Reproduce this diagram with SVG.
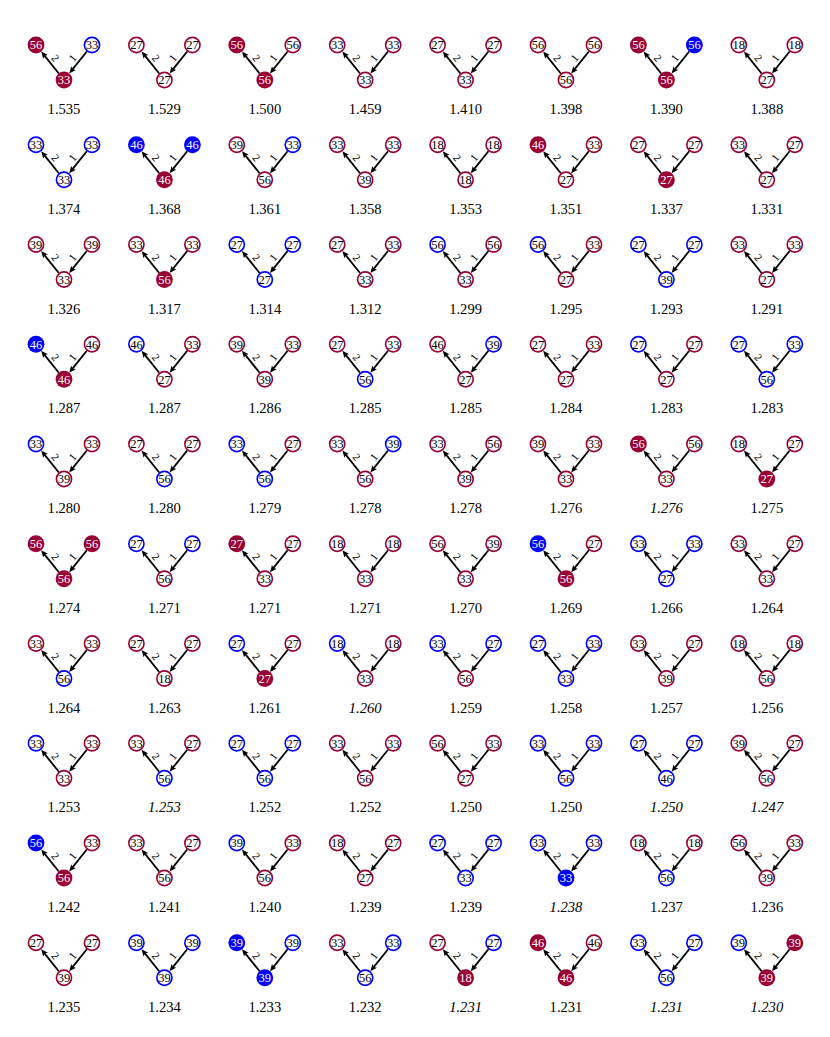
<svg xmlns="http://www.w3.org/2000/svg" xmlns:xlink="http://www.w3.org/1999/xlink" width="830" height="1037" viewBox="0 0 830 1037">
<style>
.F{fill:#990033}
.H{fill:#fff;stroke:#990033;stroke-width:1.6}
.B{fill:#fff;stroke:#0000ff;stroke-width:1.6}
.X{fill:#0000ff}
.n{font-family:"Liberation Serif",serif;font-size:12.5px;text-anchor:middle}
.w{fill:#fff}
.k{fill:#000}
.lab{font-family:"Liberation Serif",serif;font-size:14.6px;text-anchor:middle;fill:#000}
.it{font-style:italic}
.el{font-family:"Liberation Serif",serif;font-size:11px;text-anchor:middle;dominant-baseline:central;fill:#000}
.ln{stroke:#000;stroke-width:1.8;fill:none;marker-end:url(#ah)}
</style>
<defs>
<marker id="ah" markerUnits="userSpaceOnUse" viewBox="0 -3.5 8 7" refX="3" refY="0" markerWidth="8" markerHeight="7" orient="auto">
<path d="M0,-3 L7,0 L0,3 L1.5,0 z" fill="#000"/>
</marker>
<g id="e">
<line class="ln" x1="22.81" y1="6.48" x2="7.69" y2="25.40"/>
<line class="ln" x1="-5.19" y1="28.52" x2="-20.31" y2="9.60"/>
<text class="el" transform="translate(8.3,12.9) rotate(-51.3)">1</text>
<text class="el" transform="translate(-8.3,12.9) rotate(51.3)">2</text>
</g>
</defs>
<rect width="830" height="1037" fill="#fff"/>
<g id="connectors">
<use href="#e" x="64" y="45"/><use href="#e" x="164.4" y="45"/><use href="#e" x="264.8" y="45"/><use href="#e" x="365.2" y="45"/><use href="#e" x="465.6" y="45"/><use href="#e" x="566" y="45"/><use href="#e" x="666.4" y="45"/><use href="#e" x="766.8" y="45"/>
<use href="#e" x="64" y="144.75"/><use href="#e" x="164.4" y="144.75"/><use href="#e" x="264.8" y="144.75"/><use href="#e" x="365.2" y="144.75"/><use href="#e" x="465.6" y="144.75"/><use href="#e" x="566" y="144.75"/><use href="#e" x="666.4" y="144.75"/><use href="#e" x="766.8" y="144.75"/>
<use href="#e" x="64" y="244.5"/><use href="#e" x="164.4" y="244.5"/><use href="#e" x="264.8" y="244.5"/><use href="#e" x="365.2" y="244.5"/><use href="#e" x="465.6" y="244.5"/><use href="#e" x="566" y="244.5"/><use href="#e" x="666.4" y="244.5"/><use href="#e" x="766.8" y="244.5"/>
<use href="#e" x="64" y="344.25"/><use href="#e" x="164.4" y="344.25"/><use href="#e" x="264.8" y="344.25"/><use href="#e" x="365.2" y="344.25"/><use href="#e" x="465.6" y="344.25"/><use href="#e" x="566" y="344.25"/><use href="#e" x="666.4" y="344.25"/><use href="#e" x="766.8" y="344.25"/>
<use href="#e" x="64" y="444"/><use href="#e" x="164.4" y="444"/><use href="#e" x="264.8" y="444"/><use href="#e" x="365.2" y="444"/><use href="#e" x="465.6" y="444"/><use href="#e" x="566" y="444"/><use href="#e" x="666.4" y="444"/><use href="#e" x="766.8" y="444"/>
<use href="#e" x="64" y="543.75"/><use href="#e" x="164.4" y="543.75"/><use href="#e" x="264.8" y="543.75"/><use href="#e" x="365.2" y="543.75"/><use href="#e" x="465.6" y="543.75"/><use href="#e" x="566" y="543.75"/><use href="#e" x="666.4" y="543.75"/><use href="#e" x="766.8" y="543.75"/>
<use href="#e" x="64" y="643.5"/><use href="#e" x="164.4" y="643.5"/><use href="#e" x="264.8" y="643.5"/><use href="#e" x="365.2" y="643.5"/><use href="#e" x="465.6" y="643.5"/><use href="#e" x="566" y="643.5"/><use href="#e" x="666.4" y="643.5"/><use href="#e" x="766.8" y="643.5"/>
<use href="#e" x="64" y="743.25"/><use href="#e" x="164.4" y="743.25"/><use href="#e" x="264.8" y="743.25"/><use href="#e" x="365.2" y="743.25"/><use href="#e" x="465.6" y="743.25"/><use href="#e" x="566" y="743.25"/><use href="#e" x="666.4" y="743.25"/><use href="#e" x="766.8" y="743.25"/>
<use href="#e" x="64" y="843"/><use href="#e" x="164.4" y="843"/><use href="#e" x="264.8" y="843"/><use href="#e" x="365.2" y="843"/><use href="#e" x="465.6" y="843"/><use href="#e" x="566" y="843"/><use href="#e" x="666.4" y="843"/><use href="#e" x="766.8" y="843"/>
<use href="#e" x="64" y="942.75"/><use href="#e" x="164.4" y="942.75"/><use href="#e" x="264.8" y="942.75"/><use href="#e" x="365.2" y="942.75"/><use href="#e" x="465.6" y="942.75"/><use href="#e" x="566" y="942.75"/><use href="#e" x="666.4" y="942.75"/><use href="#e" x="766.8" y="942.75"/>
</g>

<!-- Row 0 -->
<g id="c0-0" transform="translate(64,45)">
<g id="c0-0L"><circle class="F" cx="-28" cy="0" r="8.4"/><text class="n w" x="-28" y="4.3">56</text></g>
<g id="c0-0R"><circle class="B" cx="28" cy="0" r="7.6"/><text class="n k" x="28" y="4.3">33</text></g>
<g id="c0-0B"><circle class="F" cx="0" cy="35" r="8.4"/><text class="n w" x="0" y="39.3">33</text></g>
<text class="lab" x="0" y="69">1.535</text></g>
<g id="c0-1" transform="translate(164.4,45)">
<g id="c0-1L"><circle class="H" cx="-28" cy="0" r="7.6"/><text class="n k" x="-28" y="4.3">27</text></g>
<g id="c0-1R"><circle class="H" cx="28" cy="0" r="7.6"/><text class="n k" x="28" y="4.3">27</text></g>
<g id="c0-1B"><circle class="H" cx="0" cy="35" r="7.6"/><text class="n k" x="0" y="39.3">27</text></g>
<text class="lab" x="0" y="69">1.529</text></g>
<g id="c0-2" transform="translate(264.8,45)">
<g id="c0-2L"><circle class="F" cx="-28" cy="0" r="8.4"/><text class="n w" x="-28" y="4.3">56</text></g>
<g id="c0-2R"><circle class="H" cx="28" cy="0" r="7.6"/><text class="n k" x="28" y="4.3">56</text></g>
<g id="c0-2B"><circle class="F" cx="0" cy="35" r="8.4"/><text class="n w" x="0" y="39.3">56</text></g>
<text class="lab" x="0" y="69">1.500</text></g>
<g id="c0-3" transform="translate(365.2,45)">
<g id="c0-3L"><circle class="H" cx="-28" cy="0" r="7.6"/><text class="n k" x="-28" y="4.3">33</text></g>
<g id="c0-3R"><circle class="H" cx="28" cy="0" r="7.6"/><text class="n k" x="28" y="4.3">33</text></g>
<g id="c0-3B"><circle class="H" cx="0" cy="35" r="7.6"/><text class="n k" x="0" y="39.3">33</text></g>
<text class="lab" x="0" y="69">1.459</text></g>
<g id="c0-4" transform="translate(465.6,45)">
<g id="c0-4L"><circle class="H" cx="-28" cy="0" r="7.6"/><text class="n k" x="-28" y="4.3">27</text></g>
<g id="c0-4R"><circle class="H" cx="28" cy="0" r="7.6"/><text class="n k" x="28" y="4.3">27</text></g>
<g id="c0-4B"><circle class="H" cx="0" cy="35" r="7.6"/><text class="n k" x="0" y="39.3">33</text></g>
<text class="lab" x="0" y="69">1.410</text></g>
<g id="c0-5" transform="translate(566,45)">
<g id="c0-5L"><circle class="H" cx="-28" cy="0" r="7.6"/><text class="n k" x="-28" y="4.3">56</text></g>
<g id="c0-5R"><circle class="H" cx="28" cy="0" r="7.6"/><text class="n k" x="28" y="4.3">56</text></g>
<g id="c0-5B"><circle class="H" cx="0" cy="35" r="7.6"/><text class="n k" x="0" y="39.3">56</text></g>
<text class="lab" x="0" y="69">1.398</text></g>
<g id="c0-6" transform="translate(666.4,45)">
<g id="c0-6L"><circle class="F" cx="-28" cy="0" r="8.4"/><text class="n w" x="-28" y="4.3">56</text></g>
<g id="c0-6R"><circle class="X" cx="28" cy="0" r="8.4"/><text class="n w" x="28" y="4.3">56</text></g>
<g id="c0-6B"><circle class="F" cx="0" cy="35" r="8.4"/><text class="n w" x="0" y="39.3">56</text></g>
<text class="lab" x="0" y="69">1.390</text></g>
<g id="c0-7" transform="translate(766.8,45)">
<g id="c0-7L"><circle class="H" cx="-28" cy="0" r="7.6"/><text class="n k" x="-28" y="4.3">18</text></g>
<g id="c0-7R"><circle class="H" cx="28" cy="0" r="7.6"/><text class="n k" x="28" y="4.3">18</text></g>
<g id="c0-7B"><circle class="H" cx="0" cy="35" r="7.6"/><text class="n k" x="0" y="39.3">27</text></g>
<text class="lab" x="0" y="69">1.388</text></g>

<!-- Row 1 -->
<g id="c1-0" transform="translate(64,144.75)">
<g id="c1-0L"><circle class="B" cx="-28" cy="0" r="7.6"/><text class="n k" x="-28" y="4.3">33</text></g>
<g id="c1-0R"><circle class="B" cx="28" cy="0" r="7.6"/><text class="n k" x="28" y="4.3">33</text></g>
<g id="c1-0B"><circle class="B" cx="0" cy="35" r="7.6"/><text class="n k" x="0" y="39.3">33</text></g>
<text class="lab" x="0" y="69">1.374</text></g>
<g id="c1-1" transform="translate(164.4,144.75)">
<g id="c1-1L"><circle class="X" cx="-28" cy="0" r="8.4"/><text class="n w" x="-28" y="4.3">46</text></g>
<g id="c1-1R"><circle class="X" cx="28" cy="0" r="8.4"/><text class="n w" x="28" y="4.3">46</text></g>
<g id="c1-1B"><circle class="F" cx="0" cy="35" r="8.4"/><text class="n w" x="0" y="39.3">46</text></g>
<text class="lab" x="0" y="69">1.368</text></g>
<g id="c1-2" transform="translate(264.8,144.75)">
<g id="c1-2L"><circle class="H" cx="-28" cy="0" r="7.6"/><text class="n k" x="-28" y="4.3">39</text></g>
<g id="c1-2R"><circle class="B" cx="28" cy="0" r="7.6"/><text class="n k" x="28" y="4.3">33</text></g>
<g id="c1-2B"><circle class="H" cx="0" cy="35" r="7.6"/><text class="n k" x="0" y="39.3">56</text></g>
<text class="lab" x="0" y="69">1.361</text></g>
<g id="c1-3" transform="translate(365.2,144.75)">
<g id="c1-3L"><circle class="H" cx="-28" cy="0" r="7.6"/><text class="n k" x="-28" y="4.3">33</text></g>
<g id="c1-3R"><circle class="H" cx="28" cy="0" r="7.6"/><text class="n k" x="28" y="4.3">33</text></g>
<g id="c1-3B"><circle class="H" cx="0" cy="35" r="7.6"/><text class="n k" x="0" y="39.3">39</text></g>
<text class="lab" x="0" y="69">1.358</text></g>
<g id="c1-4" transform="translate(465.6,144.75)">
<g id="c1-4L"><circle class="H" cx="-28" cy="0" r="7.6"/><text class="n k" x="-28" y="4.3">18</text></g>
<g id="c1-4R"><circle class="H" cx="28" cy="0" r="7.6"/><text class="n k" x="28" y="4.3">18</text></g>
<g id="c1-4B"><circle class="H" cx="0" cy="35" r="7.6"/><text class="n k" x="0" y="39.3">18</text></g>
<text class="lab" x="0" y="69">1.353</text></g>
<g id="c1-5" transform="translate(566,144.75)">
<g id="c1-5L"><circle class="F" cx="-28" cy="0" r="8.4"/><text class="n w" x="-28" y="4.3">46</text></g>
<g id="c1-5R"><circle class="H" cx="28" cy="0" r="7.6"/><text class="n k" x="28" y="4.3">33</text></g>
<g id="c1-5B"><circle class="H" cx="0" cy="35" r="7.6"/><text class="n k" x="0" y="39.3">27</text></g>
<text class="lab" x="0" y="69">1.351</text></g>
<g id="c1-6" transform="translate(666.4,144.75)">
<g id="c1-6L"><circle class="H" cx="-28" cy="0" r="7.6"/><text class="n k" x="-28" y="4.3">27</text></g>
<g id="c1-6R"><circle class="H" cx="28" cy="0" r="7.6"/><text class="n k" x="28" y="4.3">27</text></g>
<g id="c1-6B"><circle class="F" cx="0" cy="35" r="8.4"/><text class="n w" x="0" y="39.3">27</text></g>
<text class="lab" x="0" y="69">1.337</text></g>
<g id="c1-7" transform="translate(766.8,144.75)">
<g id="c1-7L"><circle class="H" cx="-28" cy="0" r="7.6"/><text class="n k" x="-28" y="4.3">33</text></g>
<g id="c1-7R"><circle class="H" cx="28" cy="0" r="7.6"/><text class="n k" x="28" y="4.3">27</text></g>
<g id="c1-7B"><circle class="H" cx="0" cy="35" r="7.6"/><text class="n k" x="0" y="39.3">27</text></g>
<text class="lab" x="0" y="69">1.331</text></g>

<!-- Row 2 -->
<g id="c2-0" transform="translate(64,244.5)">
<g id="c2-0L"><circle class="H" cx="-28" cy="0" r="7.6"/><text class="n k" x="-28" y="4.3">39</text></g>
<g id="c2-0R"><circle class="H" cx="28" cy="0" r="7.6"/><text class="n k" x="28" y="4.3">39</text></g>
<g id="c2-0B"><circle class="H" cx="0" cy="35" r="7.6"/><text class="n k" x="0" y="39.3">33</text></g>
<text class="lab" x="0" y="69">1.326</text></g>
<g id="c2-1" transform="translate(164.4,244.5)">
<g id="c2-1L"><circle class="H" cx="-28" cy="0" r="7.6"/><text class="n k" x="-28" y="4.3">33</text></g>
<g id="c2-1R"><circle class="H" cx="28" cy="0" r="7.6"/><text class="n k" x="28" y="4.3">33</text></g>
<g id="c2-1B"><circle class="F" cx="0" cy="35" r="8.4"/><text class="n w" x="0" y="39.3">56</text></g>
<text class="lab" x="0" y="69">1.317</text></g>
<g id="c2-2" transform="translate(264.8,244.5)">
<g id="c2-2L"><circle class="B" cx="-28" cy="0" r="7.6"/><text class="n k" x="-28" y="4.3">27</text></g>
<g id="c2-2R"><circle class="B" cx="28" cy="0" r="7.6"/><text class="n k" x="28" y="4.3">27</text></g>
<g id="c2-2B"><circle class="B" cx="0" cy="35" r="7.6"/><text class="n k" x="0" y="39.3">27</text></g>
<text class="lab" x="0" y="69">1.314</text></g>
<g id="c2-3" transform="translate(365.2,244.5)">
<g id="c2-3L"><circle class="H" cx="-28" cy="0" r="7.6"/><text class="n k" x="-28" y="4.3">27</text></g>
<g id="c2-3R"><circle class="H" cx="28" cy="0" r="7.6"/><text class="n k" x="28" y="4.3">33</text></g>
<g id="c2-3B"><circle class="H" cx="0" cy="35" r="7.6"/><text class="n k" x="0" y="39.3">33</text></g>
<text class="lab" x="0" y="69">1.312</text></g>
<g id="c2-4" transform="translate(465.6,244.5)">
<g id="c2-4L"><circle class="B" cx="-28" cy="0" r="7.6"/><text class="n k" x="-28" y="4.3">56</text></g>
<g id="c2-4R"><circle class="H" cx="28" cy="0" r="7.6"/><text class="n k" x="28" y="4.3">56</text></g>
<g id="c2-4B"><circle class="H" cx="0" cy="35" r="7.6"/><text class="n k" x="0" y="39.3">33</text></g>
<text class="lab" x="0" y="69">1.299</text></g>
<g id="c2-5" transform="translate(566,244.5)">
<g id="c2-5L"><circle class="B" cx="-28" cy="0" r="7.6"/><text class="n k" x="-28" y="4.3">56</text></g>
<g id="c2-5R"><circle class="H" cx="28" cy="0" r="7.6"/><text class="n k" x="28" y="4.3">33</text></g>
<g id="c2-5B"><circle class="H" cx="0" cy="35" r="7.6"/><text class="n k" x="0" y="39.3">27</text></g>
<text class="lab" x="0" y="69">1.295</text></g>
<g id="c2-6" transform="translate(666.4,244.5)">
<g id="c2-6L"><circle class="B" cx="-28" cy="0" r="7.6"/><text class="n k" x="-28" y="4.3">27</text></g>
<g id="c2-6R"><circle class="B" cx="28" cy="0" r="7.6"/><text class="n k" x="28" y="4.3">27</text></g>
<g id="c2-6B"><circle class="B" cx="0" cy="35" r="7.6"/><text class="n k" x="0" y="39.3">39</text></g>
<text class="lab" x="0" y="69">1.293</text></g>
<g id="c2-7" transform="translate(766.8,244.5)">
<g id="c2-7L"><circle class="H" cx="-28" cy="0" r="7.6"/><text class="n k" x="-28" y="4.3">33</text></g>
<g id="c2-7R"><circle class="H" cx="28" cy="0" r="7.6"/><text class="n k" x="28" y="4.3">33</text></g>
<g id="c2-7B"><circle class="H" cx="0" cy="35" r="7.6"/><text class="n k" x="0" y="39.3">27</text></g>
<text class="lab" x="0" y="69">1.291</text></g>

<!-- Row 3 -->
<g id="c3-0" transform="translate(64,344.25)">
<g id="c3-0L"><circle class="X" cx="-28" cy="0" r="8.4"/><text class="n w" x="-28" y="4.3">46</text></g>
<g id="c3-0R"><circle class="H" cx="28" cy="0" r="7.6"/><text class="n k" x="28" y="4.3">46</text></g>
<g id="c3-0B"><circle class="F" cx="0" cy="35" r="8.4"/><text class="n w" x="0" y="39.3">46</text></g>
<text class="lab" x="0" y="69">1.287</text></g>
<g id="c3-1" transform="translate(164.4,344.25)">
<g id="c3-1L"><circle class="B" cx="-28" cy="0" r="7.6"/><text class="n k" x="-28" y="4.3">46</text></g>
<g id="c3-1R"><circle class="H" cx="28" cy="0" r="7.6"/><text class="n k" x="28" y="4.3">33</text></g>
<g id="c3-1B"><circle class="H" cx="0" cy="35" r="7.6"/><text class="n k" x="0" y="39.3">27</text></g>
<text class="lab" x="0" y="69">1.287</text></g>
<g id="c3-2" transform="translate(264.8,344.25)">
<g id="c3-2L"><circle class="H" cx="-28" cy="0" r="7.6"/><text class="n k" x="-28" y="4.3">39</text></g>
<g id="c3-2R"><circle class="H" cx="28" cy="0" r="7.6"/><text class="n k" x="28" y="4.3">33</text></g>
<g id="c3-2B"><circle class="H" cx="0" cy="35" r="7.6"/><text class="n k" x="0" y="39.3">39</text></g>
<text class="lab" x="0" y="69">1.286</text></g>
<g id="c3-3" transform="translate(365.2,344.25)">
<g id="c3-3L"><circle class="H" cx="-28" cy="0" r="7.6"/><text class="n k" x="-28" y="4.3">27</text></g>
<g id="c3-3R"><circle class="H" cx="28" cy="0" r="7.6"/><text class="n k" x="28" y="4.3">33</text></g>
<g id="c3-3B"><circle class="B" cx="0" cy="35" r="7.6"/><text class="n k" x="0" y="39.3">56</text></g>
<text class="lab" x="0" y="69">1.285</text></g>
<g id="c3-4" transform="translate(465.6,344.25)">
<g id="c3-4L"><circle class="H" cx="-28" cy="0" r="7.6"/><text class="n k" x="-28" y="4.3">46</text></g>
<g id="c3-4R"><circle class="B" cx="28" cy="0" r="7.6"/><text class="n k" x="28" y="4.3">39</text></g>
<g id="c3-4B"><circle class="H" cx="0" cy="35" r="7.6"/><text class="n k" x="0" y="39.3">27</text></g>
<text class="lab" x="0" y="69">1.285</text></g>
<g id="c3-5" transform="translate(566,344.25)">
<g id="c3-5L"><circle class="H" cx="-28" cy="0" r="7.6"/><text class="n k" x="-28" y="4.3">27</text></g>
<g id="c3-5R"><circle class="H" cx="28" cy="0" r="7.6"/><text class="n k" x="28" y="4.3">33</text></g>
<g id="c3-5B"><circle class="H" cx="0" cy="35" r="7.6"/><text class="n k" x="0" y="39.3">27</text></g>
<text class="lab" x="0" y="69">1.284</text></g>
<g id="c3-6" transform="translate(666.4,344.25)">
<g id="c3-6L"><circle class="B" cx="-28" cy="0" r="7.6"/><text class="n k" x="-28" y="4.3">27</text></g>
<g id="c3-6R"><circle class="H" cx="28" cy="0" r="7.6"/><text class="n k" x="28" y="4.3">27</text></g>
<g id="c3-6B"><circle class="H" cx="0" cy="35" r="7.6"/><text class="n k" x="0" y="39.3">27</text></g>
<text class="lab" x="0" y="69">1.283</text></g>
<g id="c3-7" transform="translate(766.8,344.25)">
<g id="c3-7L"><circle class="B" cx="-28" cy="0" r="7.6"/><text class="n k" x="-28" y="4.3">27</text></g>
<g id="c3-7R"><circle class="B" cx="28" cy="0" r="7.6"/><text class="n k" x="28" y="4.3">33</text></g>
<g id="c3-7B"><circle class="B" cx="0" cy="35" r="7.6"/><text class="n k" x="0" y="39.3">56</text></g>
<text class="lab" x="0" y="69">1.283</text></g>

<!-- Row 4 -->
<g id="c4-0" transform="translate(64,444)">
<g id="c4-0L"><circle class="B" cx="-28" cy="0" r="7.6"/><text class="n k" x="-28" y="4.3">33</text></g>
<g id="c4-0R"><circle class="H" cx="28" cy="0" r="7.6"/><text class="n k" x="28" y="4.3">33</text></g>
<g id="c4-0B"><circle class="H" cx="0" cy="35" r="7.6"/><text class="n k" x="0" y="39.3">39</text></g>
<text class="lab" x="0" y="69">1.280</text></g>
<g id="c4-1" transform="translate(164.4,444)">
<g id="c4-1L"><circle class="H" cx="-28" cy="0" r="7.6"/><text class="n k" x="-28" y="4.3">27</text></g>
<g id="c4-1R"><circle class="H" cx="28" cy="0" r="7.6"/><text class="n k" x="28" y="4.3">27</text></g>
<g id="c4-1B"><circle class="B" cx="0" cy="35" r="7.6"/><text class="n k" x="0" y="39.3">56</text></g>
<text class="lab" x="0" y="69">1.280</text></g>
<g id="c4-2" transform="translate(264.8,444)">
<g id="c4-2L"><circle class="B" cx="-28" cy="0" r="7.6"/><text class="n k" x="-28" y="4.3">33</text></g>
<g id="c4-2R"><circle class="H" cx="28" cy="0" r="7.6"/><text class="n k" x="28" y="4.3">27</text></g>
<g id="c4-2B"><circle class="B" cx="0" cy="35" r="7.6"/><text class="n k" x="0" y="39.3">56</text></g>
<text class="lab" x="0" y="69">1.279</text></g>
<g id="c4-3" transform="translate(365.2,444)">
<g id="c4-3L"><circle class="H" cx="-28" cy="0" r="7.6"/><text class="n k" x="-28" y="4.3">33</text></g>
<g id="c4-3R"><circle class="B" cx="28" cy="0" r="7.6"/><text class="n k" x="28" y="4.3">39</text></g>
<g id="c4-3B"><circle class="H" cx="0" cy="35" r="7.6"/><text class="n k" x="0" y="39.3">56</text></g>
<text class="lab" x="0" y="69">1.278</text></g>
<g id="c4-4" transform="translate(465.6,444)">
<g id="c4-4L"><circle class="H" cx="-28" cy="0" r="7.6"/><text class="n k" x="-28" y="4.3">33</text></g>
<g id="c4-4R"><circle class="H" cx="28" cy="0" r="7.6"/><text class="n k" x="28" y="4.3">56</text></g>
<g id="c4-4B"><circle class="H" cx="0" cy="35" r="7.6"/><text class="n k" x="0" y="39.3">39</text></g>
<text class="lab" x="0" y="69">1.278</text></g>
<g id="c4-5" transform="translate(566,444)">
<g id="c4-5L"><circle class="H" cx="-28" cy="0" r="7.6"/><text class="n k" x="-28" y="4.3">39</text></g>
<g id="c4-5R"><circle class="H" cx="28" cy="0" r="7.6"/><text class="n k" x="28" y="4.3">33</text></g>
<g id="c4-5B"><circle class="H" cx="0" cy="35" r="7.6"/><text class="n k" x="0" y="39.3">33</text></g>
<text class="lab" x="0" y="69">1.276</text></g>
<g id="c4-6" transform="translate(666.4,444)">
<g id="c4-6L"><circle class="F" cx="-28" cy="0" r="8.4"/><text class="n w" x="-28" y="4.3">56</text></g>
<g id="c4-6R"><circle class="H" cx="28" cy="0" r="7.6"/><text class="n k" x="28" y="4.3">56</text></g>
<g id="c4-6B"><circle class="H" cx="0" cy="35" r="7.6"/><text class="n k" x="0" y="39.3">33</text></g>
<text class="lab it" x="0" y="69">1.276</text></g>
<g id="c4-7" transform="translate(766.8,444)">
<g id="c4-7L"><circle class="H" cx="-28" cy="0" r="7.6"/><text class="n k" x="-28" y="4.3">18</text></g>
<g id="c4-7R"><circle class="H" cx="28" cy="0" r="7.6"/><text class="n k" x="28" y="4.3">27</text></g>
<g id="c4-7B"><circle class="F" cx="0" cy="35" r="8.4"/><text class="n w" x="0" y="39.3">27</text></g>
<text class="lab" x="0" y="69">1.275</text></g>

<!-- Row 5 -->
<g id="c5-0" transform="translate(64,543.75)">
<g id="c5-0L"><circle class="F" cx="-28" cy="0" r="8.4"/><text class="n w" x="-28" y="4.3">56</text></g>
<g id="c5-0R"><circle class="F" cx="28" cy="0" r="8.4"/><text class="n w" x="28" y="4.3">56</text></g>
<g id="c5-0B"><circle class="F" cx="0" cy="35" r="8.4"/><text class="n w" x="0" y="39.3">56</text></g>
<text class="lab" x="0" y="69">1.274</text></g>
<g id="c5-1" transform="translate(164.4,543.75)">
<g id="c5-1L"><circle class="B" cx="-28" cy="0" r="7.6"/><text class="n k" x="-28" y="4.3">27</text></g>
<g id="c5-1R"><circle class="B" cx="28" cy="0" r="7.6"/><text class="n k" x="28" y="4.3">27</text></g>
<g id="c5-1B"><circle class="H" cx="0" cy="35" r="7.6"/><text class="n k" x="0" y="39.3">56</text></g>
<text class="lab" x="0" y="69">1.271</text></g>
<g id="c5-2" transform="translate(264.8,543.75)">
<g id="c5-2L"><circle class="F" cx="-28" cy="0" r="8.4"/><text class="n w" x="-28" y="4.3">27</text></g>
<g id="c5-2R"><circle class="H" cx="28" cy="0" r="7.6"/><text class="n k" x="28" y="4.3">27</text></g>
<g id="c5-2B"><circle class="H" cx="0" cy="35" r="7.6"/><text class="n k" x="0" y="39.3">33</text></g>
<text class="lab" x="0" y="69">1.271</text></g>
<g id="c5-3" transform="translate(365.2,543.75)">
<g id="c5-3L"><circle class="H" cx="-28" cy="0" r="7.6"/><text class="n k" x="-28" y="4.3">18</text></g>
<g id="c5-3R"><circle class="H" cx="28" cy="0" r="7.6"/><text class="n k" x="28" y="4.3">18</text></g>
<g id="c5-3B"><circle class="H" cx="0" cy="35" r="7.6"/><text class="n k" x="0" y="39.3">33</text></g>
<text class="lab" x="0" y="69">1.271</text></g>
<g id="c5-4" transform="translate(465.6,543.75)">
<g id="c5-4L"><circle class="H" cx="-28" cy="0" r="7.6"/><text class="n k" x="-28" y="4.3">56</text></g>
<g id="c5-4R"><circle class="H" cx="28" cy="0" r="7.6"/><text class="n k" x="28" y="4.3">39</text></g>
<g id="c5-4B"><circle class="H" cx="0" cy="35" r="7.6"/><text class="n k" x="0" y="39.3">33</text></g>
<text class="lab" x="0" y="69">1.270</text></g>
<g id="c5-5" transform="translate(566,543.75)">
<g id="c5-5L"><circle class="X" cx="-28" cy="0" r="8.4"/><text class="n w" x="-28" y="4.3">56</text></g>
<g id="c5-5R"><circle class="H" cx="28" cy="0" r="7.6"/><text class="n k" x="28" y="4.3">27</text></g>
<g id="c5-5B"><circle class="F" cx="0" cy="35" r="8.4"/><text class="n w" x="0" y="39.3">56</text></g>
<text class="lab" x="0" y="69">1.269</text></g>
<g id="c5-6" transform="translate(666.4,543.75)">
<g id="c5-6L"><circle class="B" cx="-28" cy="0" r="7.6"/><text class="n k" x="-28" y="4.3">33</text></g>
<g id="c5-6R"><circle class="B" cx="28" cy="0" r="7.6"/><text class="n k" x="28" y="4.3">33</text></g>
<g id="c5-6B"><circle class="B" cx="0" cy="35" r="7.6"/><text class="n k" x="0" y="39.3">27</text></g>
<text class="lab" x="0" y="69">1.266</text></g>
<g id="c5-7" transform="translate(766.8,543.75)">
<g id="c5-7L"><circle class="H" cx="-28" cy="0" r="7.6"/><text class="n k" x="-28" y="4.3">33</text></g>
<g id="c5-7R"><circle class="H" cx="28" cy="0" r="7.6"/><text class="n k" x="28" y="4.3">27</text></g>
<g id="c5-7B"><circle class="H" cx="0" cy="35" r="7.6"/><text class="n k" x="0" y="39.3">33</text></g>
<text class="lab" x="0" y="69">1.264</text></g>

<!-- Row 6 -->
<g id="c6-0" transform="translate(64,643.5)">
<g id="c6-0L"><circle class="H" cx="-28" cy="0" r="7.6"/><text class="n k" x="-28" y="4.3">33</text></g>
<g id="c6-0R"><circle class="H" cx="28" cy="0" r="7.6"/><text class="n k" x="28" y="4.3">33</text></g>
<g id="c6-0B"><circle class="B" cx="0" cy="35" r="7.6"/><text class="n k" x="0" y="39.3">56</text></g>
<text class="lab" x="0" y="69">1.264</text></g>
<g id="c6-1" transform="translate(164.4,643.5)">
<g id="c6-1L"><circle class="H" cx="-28" cy="0" r="7.6"/><text class="n k" x="-28" y="4.3">27</text></g>
<g id="c6-1R"><circle class="H" cx="28" cy="0" r="7.6"/><text class="n k" x="28" y="4.3">27</text></g>
<g id="c6-1B"><circle class="H" cx="0" cy="35" r="7.6"/><text class="n k" x="0" y="39.3">18</text></g>
<text class="lab" x="0" y="69">1.263</text></g>
<g id="c6-2" transform="translate(264.8,643.5)">
<g id="c6-2L"><circle class="B" cx="-28" cy="0" r="7.6"/><text class="n k" x="-28" y="4.3">27</text></g>
<g id="c6-2R"><circle class="H" cx="28" cy="0" r="7.6"/><text class="n k" x="28" y="4.3">27</text></g>
<g id="c6-2B"><circle class="F" cx="0" cy="35" r="8.4"/><text class="n w" x="0" y="39.3">27</text></g>
<text class="lab" x="0" y="69">1.261</text></g>
<g id="c6-3" transform="translate(365.2,643.5)">
<g id="c6-3L"><circle class="B" cx="-28" cy="0" r="7.6"/><text class="n k" x="-28" y="4.3">18</text></g>
<g id="c6-3R"><circle class="H" cx="28" cy="0" r="7.6"/><text class="n k" x="28" y="4.3">18</text></g>
<g id="c6-3B"><circle class="H" cx="0" cy="35" r="7.6"/><text class="n k" x="0" y="39.3">33</text></g>
<text class="lab it" x="0" y="69">1.260</text></g>
<g id="c6-4" transform="translate(465.6,643.5)">
<g id="c6-4L"><circle class="B" cx="-28" cy="0" r="7.6"/><text class="n k" x="-28" y="4.3">33</text></g>
<g id="c6-4R"><circle class="B" cx="28" cy="0" r="7.6"/><text class="n k" x="28" y="4.3">27</text></g>
<g id="c6-4B"><circle class="H" cx="0" cy="35" r="7.6"/><text class="n k" x="0" y="39.3">56</text></g>
<text class="lab" x="0" y="69">1.259</text></g>
<g id="c6-5" transform="translate(566,643.5)">
<g id="c6-5L"><circle class="B" cx="-28" cy="0" r="7.6"/><text class="n k" x="-28" y="4.3">27</text></g>
<g id="c6-5R"><circle class="B" cx="28" cy="0" r="7.6"/><text class="n k" x="28" y="4.3">33</text></g>
<g id="c6-5B"><circle class="B" cx="0" cy="35" r="7.6"/><text class="n k" x="0" y="39.3">33</text></g>
<text class="lab" x="0" y="69">1.258</text></g>
<g id="c6-6" transform="translate(666.4,643.5)">
<g id="c6-6L"><circle class="H" cx="-28" cy="0" r="7.6"/><text class="n k" x="-28" y="4.3">33</text></g>
<g id="c6-6R"><circle class="H" cx="28" cy="0" r="7.6"/><text class="n k" x="28" y="4.3">27</text></g>
<g id="c6-6B"><circle class="H" cx="0" cy="35" r="7.6"/><text class="n k" x="0" y="39.3">39</text></g>
<text class="lab" x="0" y="69">1.257</text></g>
<g id="c6-7" transform="translate(766.8,643.5)">
<g id="c6-7L"><circle class="H" cx="-28" cy="0" r="7.6"/><text class="n k" x="-28" y="4.3">18</text></g>
<g id="c6-7R"><circle class="H" cx="28" cy="0" r="7.6"/><text class="n k" x="28" y="4.3">18</text></g>
<g id="c6-7B"><circle class="H" cx="0" cy="35" r="7.6"/><text class="n k" x="0" y="39.3">56</text></g>
<text class="lab" x="0" y="69">1.256</text></g>

<!-- Row 7 -->
<g id="c7-0" transform="translate(64,743.25)">
<g id="c7-0L"><circle class="B" cx="-28" cy="0" r="7.6"/><text class="n k" x="-28" y="4.3">33</text></g>
<g id="c7-0R"><circle class="H" cx="28" cy="0" r="7.6"/><text class="n k" x="28" y="4.3">33</text></g>
<g id="c7-0B"><circle class="H" cx="0" cy="35" r="7.6"/><text class="n k" x="0" y="39.3">33</text></g>
<text class="lab" x="0" y="69">1.253</text></g>
<g id="c7-1" transform="translate(164.4,743.25)">
<g id="c7-1L"><circle class="H" cx="-28" cy="0" r="7.6"/><text class="n k" x="-28" y="4.3">33</text></g>
<g id="c7-1R"><circle class="H" cx="28" cy="0" r="7.6"/><text class="n k" x="28" y="4.3">27</text></g>
<g id="c7-1B"><circle class="B" cx="0" cy="35" r="7.6"/><text class="n k" x="0" y="39.3">56</text></g>
<text class="lab it" x="0" y="69">1.253</text></g>
<g id="c7-2" transform="translate(264.8,743.25)">
<g id="c7-2L"><circle class="B" cx="-28" cy="0" r="7.6"/><text class="n k" x="-28" y="4.3">27</text></g>
<g id="c7-2R"><circle class="B" cx="28" cy="0" r="7.6"/><text class="n k" x="28" y="4.3">27</text></g>
<g id="c7-2B"><circle class="B" cx="0" cy="35" r="7.6"/><text class="n k" x="0" y="39.3">56</text></g>
<text class="lab" x="0" y="69">1.252</text></g>
<g id="c7-3" transform="translate(365.2,743.25)">
<g id="c7-3L"><circle class="H" cx="-28" cy="0" r="7.6"/><text class="n k" x="-28" y="4.3">33</text></g>
<g id="c7-3R"><circle class="H" cx="28" cy="0" r="7.6"/><text class="n k" x="28" y="4.3">33</text></g>
<g id="c7-3B"><circle class="H" cx="0" cy="35" r="7.6"/><text class="n k" x="0" y="39.3">56</text></g>
<text class="lab" x="0" y="69">1.252</text></g>
<g id="c7-4" transform="translate(465.6,743.25)">
<g id="c7-4L"><circle class="H" cx="-28" cy="0" r="7.6"/><text class="n k" x="-28" y="4.3">56</text></g>
<g id="c7-4R"><circle class="H" cx="28" cy="0" r="7.6"/><text class="n k" x="28" y="4.3">33</text></g>
<g id="c7-4B"><circle class="H" cx="0" cy="35" r="7.6"/><text class="n k" x="0" y="39.3">27</text></g>
<text class="lab" x="0" y="69">1.250</text></g>
<g id="c7-5" transform="translate(566,743.25)">
<g id="c7-5L"><circle class="B" cx="-28" cy="0" r="7.6"/><text class="n k" x="-28" y="4.3">33</text></g>
<g id="c7-5R"><circle class="B" cx="28" cy="0" r="7.6"/><text class="n k" x="28" y="4.3">33</text></g>
<g id="c7-5B"><circle class="B" cx="0" cy="35" r="7.6"/><text class="n k" x="0" y="39.3">56</text></g>
<text class="lab" x="0" y="69">1.250</text></g>
<g id="c7-6" transform="translate(666.4,743.25)">
<g id="c7-6L"><circle class="B" cx="-28" cy="0" r="7.6"/><text class="n k" x="-28" y="4.3">27</text></g>
<g id="c7-6R"><circle class="B" cx="28" cy="0" r="7.6"/><text class="n k" x="28" y="4.3">27</text></g>
<g id="c7-6B"><circle class="B" cx="0" cy="35" r="7.6"/><text class="n k" x="0" y="39.3">46</text></g>
<text class="lab it" x="0" y="69">1.250</text></g>
<g id="c7-7" transform="translate(766.8,743.25)">
<g id="c7-7L"><circle class="H" cx="-28" cy="0" r="7.6"/><text class="n k" x="-28" y="4.3">39</text></g>
<g id="c7-7R"><circle class="H" cx="28" cy="0" r="7.6"/><text class="n k" x="28" y="4.3">27</text></g>
<g id="c7-7B"><circle class="H" cx="0" cy="35" r="7.6"/><text class="n k" x="0" y="39.3">56</text></g>
<text class="lab it" x="0" y="69">1.247</text></g>

<!-- Row 8 -->
<g id="c8-0" transform="translate(64,843)">
<g id="c8-0L"><circle class="X" cx="-28" cy="0" r="8.4"/><text class="n w" x="-28" y="4.3">56</text></g>
<g id="c8-0R"><circle class="H" cx="28" cy="0" r="7.6"/><text class="n k" x="28" y="4.3">33</text></g>
<g id="c8-0B"><circle class="F" cx="0" cy="35" r="8.4"/><text class="n w" x="0" y="39.3">56</text></g>
<text class="lab" x="0" y="69">1.242</text></g>
<g id="c8-1" transform="translate(164.4,843)">
<g id="c8-1L"><circle class="H" cx="-28" cy="0" r="7.6"/><text class="n k" x="-28" y="4.3">33</text></g>
<g id="c8-1R"><circle class="H" cx="28" cy="0" r="7.6"/><text class="n k" x="28" y="4.3">27</text></g>
<g id="c8-1B"><circle class="H" cx="0" cy="35" r="7.6"/><text class="n k" x="0" y="39.3">56</text></g>
<text class="lab" x="0" y="69">1.241</text></g>
<g id="c8-2" transform="translate(264.8,843)">
<g id="c8-2L"><circle class="B" cx="-28" cy="0" r="7.6"/><text class="n k" x="-28" y="4.3">39</text></g>
<g id="c8-2R"><circle class="H" cx="28" cy="0" r="7.6"/><text class="n k" x="28" y="4.3">33</text></g>
<g id="c8-2B"><circle class="H" cx="0" cy="35" r="7.6"/><text class="n k" x="0" y="39.3">56</text></g>
<text class="lab" x="0" y="69">1.240</text></g>
<g id="c8-3" transform="translate(365.2,843)">
<g id="c8-3L"><circle class="H" cx="-28" cy="0" r="7.6"/><text class="n k" x="-28" y="4.3">18</text></g>
<g id="c8-3R"><circle class="H" cx="28" cy="0" r="7.6"/><text class="n k" x="28" y="4.3">27</text></g>
<g id="c8-3B"><circle class="H" cx="0" cy="35" r="7.6"/><text class="n k" x="0" y="39.3">27</text></g>
<text class="lab" x="0" y="69">1.239</text></g>
<g id="c8-4" transform="translate(465.6,843)">
<g id="c8-4L"><circle class="B" cx="-28" cy="0" r="7.6"/><text class="n k" x="-28" y="4.3">27</text></g>
<g id="c8-4R"><circle class="B" cx="28" cy="0" r="7.6"/><text class="n k" x="28" y="4.3">27</text></g>
<g id="c8-4B"><circle class="B" cx="0" cy="35" r="7.6"/><text class="n k" x="0" y="39.3">33</text></g>
<text class="lab" x="0" y="69">1.239</text></g>
<g id="c8-5" transform="translate(566,843)">
<g id="c8-5L"><circle class="B" cx="-28" cy="0" r="7.6"/><text class="n k" x="-28" y="4.3">33</text></g>
<g id="c8-5R"><circle class="B" cx="28" cy="0" r="7.6"/><text class="n k" x="28" y="4.3">33</text></g>
<g id="c8-5B"><circle class="X" cx="0" cy="35" r="8.4"/><text class="n w" x="0" y="39.3">33</text></g>
<text class="lab it" x="0" y="69">1.238</text></g>
<g id="c8-6" transform="translate(666.4,843)">
<g id="c8-6L"><circle class="H" cx="-28" cy="0" r="7.6"/><text class="n k" x="-28" y="4.3">18</text></g>
<g id="c8-6R"><circle class="H" cx="28" cy="0" r="7.6"/><text class="n k" x="28" y="4.3">18</text></g>
<g id="c8-6B"><circle class="B" cx="0" cy="35" r="7.6"/><text class="n k" x="0" y="39.3">56</text></g>
<text class="lab" x="0" y="69">1.237</text></g>
<g id="c8-7" transform="translate(766.8,843)">
<g id="c8-7L"><circle class="H" cx="-28" cy="0" r="7.6"/><text class="n k" x="-28" y="4.3">56</text></g>
<g id="c8-7R"><circle class="H" cx="28" cy="0" r="7.6"/><text class="n k" x="28" y="4.3">33</text></g>
<g id="c8-7B"><circle class="H" cx="0" cy="35" r="7.6"/><text class="n k" x="0" y="39.3">39</text></g>
<text class="lab" x="0" y="69">1.236</text></g>

<!-- Row 9 -->
<g id="c9-0" transform="translate(64,942.75)">
<g id="c9-0L"><circle class="H" cx="-28" cy="0" r="7.6"/><text class="n k" x="-28" y="4.3">27</text></g>
<g id="c9-0R"><circle class="H" cx="28" cy="0" r="7.6"/><text class="n k" x="28" y="4.3">27</text></g>
<g id="c9-0B"><circle class="H" cx="0" cy="35" r="7.6"/><text class="n k" x="0" y="39.3">39</text></g>
<text class="lab" x="0" y="69">1.235</text></g>
<g id="c9-1" transform="translate(164.4,942.75)">
<g id="c9-1L"><circle class="B" cx="-28" cy="0" r="7.6"/><text class="n k" x="-28" y="4.3">39</text></g>
<g id="c9-1R"><circle class="B" cx="28" cy="0" r="7.6"/><text class="n k" x="28" y="4.3">39</text></g>
<g id="c9-1B"><circle class="B" cx="0" cy="35" r="7.6"/><text class="n k" x="0" y="39.3">39</text></g>
<text class="lab" x="0" y="69">1.234</text></g>
<g id="c9-2" transform="translate(264.8,942.75)">
<g id="c9-2L"><circle class="X" cx="-28" cy="0" r="8.4"/><text class="n w" x="-28" y="4.3">39</text></g>
<g id="c9-2R"><circle class="B" cx="28" cy="0" r="7.6"/><text class="n k" x="28" y="4.3">39</text></g>
<g id="c9-2B"><circle class="X" cx="0" cy="35" r="8.4"/><text class="n w" x="0" y="39.3">39</text></g>
<text class="lab" x="0" y="69">1.233</text></g>
<g id="c9-3" transform="translate(365.2,942.75)">
<g id="c9-3L"><circle class="H" cx="-28" cy="0" r="7.6"/><text class="n k" x="-28" y="4.3">33</text></g>
<g id="c9-3R"><circle class="B" cx="28" cy="0" r="7.6"/><text class="n k" x="28" y="4.3">33</text></g>
<g id="c9-3B"><circle class="B" cx="0" cy="35" r="7.6"/><text class="n k" x="0" y="39.3">56</text></g>
<text class="lab" x="0" y="69">1.232</text></g>
<g id="c9-4" transform="translate(465.6,942.75)">
<g id="c9-4L"><circle class="H" cx="-28" cy="0" r="7.6"/><text class="n k" x="-28" y="4.3">27</text></g>
<g id="c9-4R"><circle class="B" cx="28" cy="0" r="7.6"/><text class="n k" x="28" y="4.3">27</text></g>
<g id="c9-4B"><circle class="F" cx="0" cy="35" r="8.4"/><text class="n w" x="0" y="39.3">18</text></g>
<text class="lab it" x="0" y="69">1.231</text></g>
<g id="c9-5" transform="translate(566,942.75)">
<g id="c9-5L"><circle class="F" cx="-28" cy="0" r="8.4"/><text class="n w" x="-28" y="4.3">46</text></g>
<g id="c9-5R"><circle class="H" cx="28" cy="0" r="7.6"/><text class="n k" x="28" y="4.3">46</text></g>
<g id="c9-5B"><circle class="F" cx="0" cy="35" r="8.4"/><text class="n w" x="0" y="39.3">46</text></g>
<text class="lab" x="0" y="69">1.231</text></g>
<g id="c9-6" transform="translate(666.4,942.75)">
<g id="c9-6L"><circle class="B" cx="-28" cy="0" r="7.6"/><text class="n k" x="-28" y="4.3">33</text></g>
<g id="c9-6R"><circle class="B" cx="28" cy="0" r="7.6"/><text class="n k" x="28" y="4.3">27</text></g>
<g id="c9-6B"><circle class="B" cx="0" cy="35" r="7.6"/><text class="n k" x="0" y="39.3">56</text></g>
<text class="lab it" x="0" y="69">1.231</text></g>
<g id="c9-7" transform="translate(766.8,942.75)">
<g id="c9-7L"><circle class="B" cx="-28" cy="0" r="7.6"/><text class="n k" x="-28" y="4.3">39</text></g>
<g id="c9-7R"><circle class="F" cx="28" cy="0" r="8.4"/><text class="n w" x="28" y="4.3">39</text></g>
<g id="c9-7B"><circle class="F" cx="0" cy="35" r="8.4"/><text class="n w" x="0" y="39.3">39</text></g>
<text class="lab it" x="0" y="69">1.230</text></g>
</svg>
